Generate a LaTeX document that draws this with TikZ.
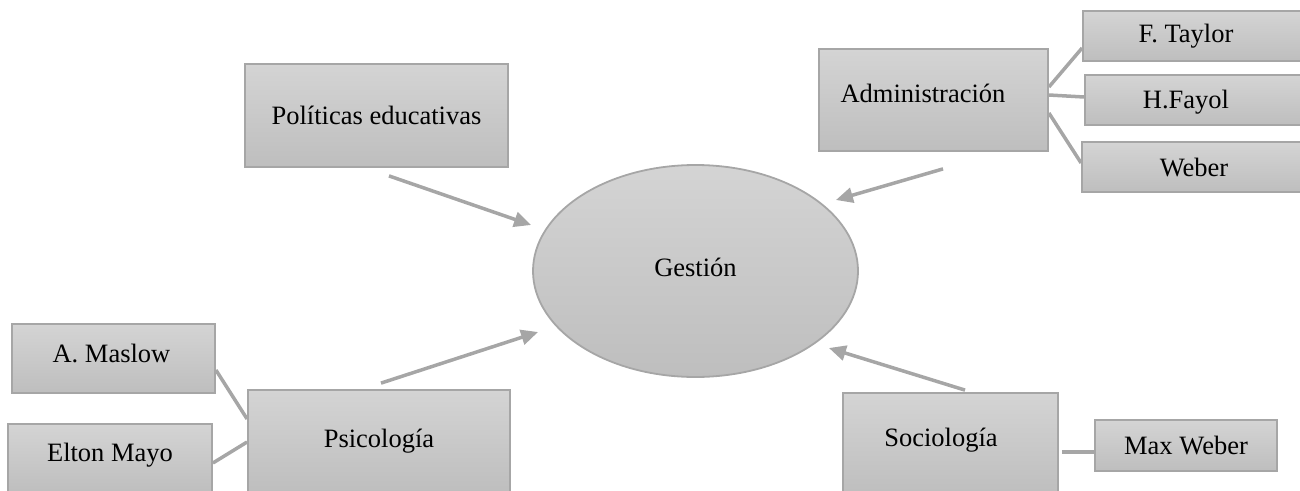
\documentclass[tikz,border=0pt]{standalone}
\usepackage{fontspec}
\setmainfont{Liberation Serif}
\usetikzlibrary{arrows.meta,shapes.geometric}
\definecolor{edgegray}{HTML}{A6A6A6}
\definecolor{topgray}{HTML}{D4D4D4}
\definecolor{botgray}{HTML}{BEBEBE}
\tikzset{
  txt/.style={font=\fontsize{26.5}{30}\selectfont, text=black, inner sep=0pt},
  box/.style={draw=edgegray, line width=1.8pt, top color=topgray, bottom color=botgray, inner sep=0pt, txt},
  conn/.style={draw=edgegray, line width=3.5pt},
  arr/.style={conn, -{Triangle[length=17pt,width=15pt]}, fill=edgegray},
}
\begin{document}
\begin{tikzpicture}[x=1pt,y=-1pt]
\useasboundingbox (0,0) rectangle (1300,490);
\clip (0,0) rectangle (1300,490);

% central ellipse
\node[ellipse, draw=edgegray, line width=1.8pt, top color=topgray, bottom color=botgray,
      minimum width=325, minimum height=212, inner sep=0pt,
      label={[txt,yshift=4]center:Gestión}] (ges) at (695.5,271) {};

% boxes
\node[box, minimum width=263, minimum height=103] (pol) at (376.5,115.5) {Políticas educativas};
\node[box, minimum width=229, minimum height=102,
      label={[txt,xshift=-10.5,yshift=7]center:Administración}] (adm) at (933.5,100) {};
\node[box, minimum width=227, minimum height=50,
      label={[txt,xshift=-10.5]center:F. Taylor}] (ft) at (1196.5,36) {};
\node[box, minimum width=225, minimum height=50,
      label={[txt,xshift=-11.5,yshift=-2]center:H.Fayol}] (hf) at (1197.5,100) {};
\node[box, minimum width=228, minimum height=50,
      label={[txt,xshift=-2,yshift=-1]center:Weber}] (wb) at (1196,167) {};
\node[box, minimum width=203, minimum height=69,
      label={[txt,xshift=-2,yshift=5]center:A. Maslow}] (mas) at (113.5,358.5) {};
\node[box, minimum width=204, minimum height=69,
      label={[txt,yshift=3]center:Elton Mayo}] (elt) at (110,458.5) {};
\node[box, minimum width=262, minimum height=102,
      label={[txt,yshift=0]center:Psicología}] (psi) at (379,441) {};
\node[box, minimum width=215, minimum height=102,
      label={[txt,xshift=-9.5,yshift=4]center:Sociología}] (soc) at (950.5,444) {};
\node[box, minimum width=182, minimum height=51] (mw) at (1186,445.5) {Max Weber};

% plain connectors
\draw[conn] ([yshift=13]adm.east) -- ([yshift=-12]ft.west);
\draw[conn] ([yshift=5]adm.east) -- ([yshift=3]hf.west);
\draw[conn] ([yshift=-13]adm.east) -- ([yshift=4]wb.west);
\draw[conn] ([yshift=-11.5]mas.east) -- ([yshift=22]psi.west);
\draw[conn] ([yshift=-4.5]elt.east) -- ([yshift=-1]psi.west);
\draw[conn] ([xshift=3,yshift=-8]soc.east) -- ([yshift=-6.5]mw.west);

% arrows into Gestión
\draw[arr] ([xshift=12.5,yshift=-8]pol.south) -- ([xshift=-1,yshift=46]ges.west);
\draw[arr] ([xshift=2,yshift=6]psi.north) -- ([xshift=6,yshift=-61]ges.west);
\draw[arr] ([xshift=9.5,yshift=-17]adm.south) -- ([xshift=-23,yshift=71]ges.east);
\draw[arr] ([xshift=14.5,yshift=2]soc.north) -- ([xshift=-30,yshift=-77]ges.east);
\end{tikzpicture}
\end{document}
